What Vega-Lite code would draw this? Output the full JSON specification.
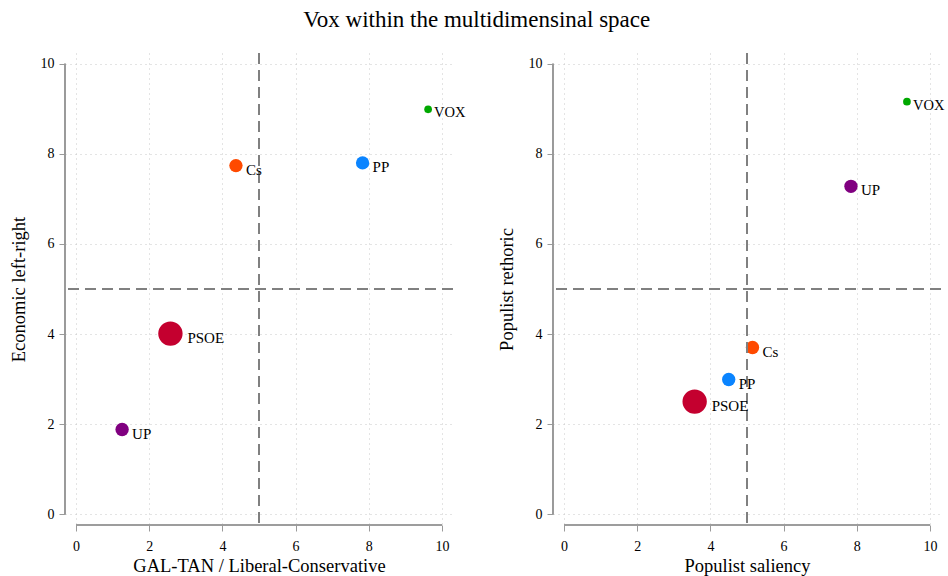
{
  "$schema": "https://vega.github.io/schema/vega-lite/v6.json",
  "background": "white",
  "padding": {"left": 9, "top": 9, "right": 0, "bottom": 2},
  "title": {"text": "Vox within the multidimensinal space", "font": "Liberation Serif", "fontSize": 23, "fontWeight": "normal", "color": "#000", "anchor": "middle", "offset": 20},
  "config": {
    "font": "Liberation Serif",
    "view": {"stroke": null},
    "axis": {
      "domain": false,
      "tickColor": "#9a9a9a",
      "tickSize": 6,
      "tickWidth": 1,
      "labelFont": "Liberation Serif",
      "labelFontSize": 14,
      "labelColor": "#000",
      "titleFont": "Liberation Serif",
      "titleFontSize": 18.5,
      "titleFontWeight": "normal",
      "titleColor": "#000",
      "gridColor": "#c8c8c8",
      "gridDash": [1, 4],
      "gridWidth": 1
    },
    "axisX": {"labelPadding": 8, "titlePadding": 3},
    "axisY": {"labelPadding": 5, "titlePadding": 12, "labelAngle": 0}
  },
  "datasets": {
    "econ": [
      {"party": "PSOE", "x": 2.58, "y": 4.01, "weight": 30},
      {"party": "PP", "x": 7.83, "y": 7.80, "weight": 9},
      {"party": "Cs", "x": 4.37, "y": 7.74, "weight": 9},
      {"party": "UP", "x": 1.26, "y": 1.88, "weight": 9},
      {"party": "VOX", "x": 9.62, "y": 8.99, "weight": 3}
    ],
    "pop": [
      {"party": "PSOE", "x": 3.57, "y": 2.50, "weight": 30},
      {"party": "PP", "x": 4.50, "y": 2.99, "weight": 9},
      {"party": "Cs", "x": 5.15, "y": 3.70, "weight": 9},
      {"party": "UP", "x": 7.84, "y": 7.28, "weight": 9},
      {"party": "VOX", "x": 9.37, "y": 9.16, "weight": 3}
    ]
  },
  "spacing": 31,
  "hconcat": [
    {
      "width": 388,
      "height": 472,
      "data": {"name": "econ"},
      "layer": [
        {
          "mark": {"type": "point", "filled": true, "opacity": 1, "strokeWidth": 0},
          "encoding": {
            "x": {"field": "x", "type": "quantitative", "scale": {"domain": [-0.3, 10.3], "nice": false, "zero": false}, "axis": {"title": "GAL-TAN / Liberal-Conservative", "grid": true, "values": [0, 2, 4, 6, 8, 10]}},
            "y": {"field": "y", "type": "quantitative", "scale": {"domain": [-0.24, 10.24], "nice": false, "zero": false}, "axis": {"title": "Economic left-right", "grid": true, "values": [0, 2, 4, 6, 8, 10]}},
            "size": {"field": "weight", "type": "quantitative", "scale": {"domain": [0, 30], "range": [0, 594]}, "legend": null},
            "color": {"field": "party", "type": "nominal", "scale": {"domain": ["PSOE", "PP", "Cs", "UP", "VOX"], "range": ["#c4002f", "#0a84ff", "#ff4a00", "#800080", "#00a800"]}, "legend": null}
          }
        },
        {
          "mark": {"type": "rule", "color": "#9a9a9a", "strokeWidth": 1.2},
          "encoding": {"x": {"datum": -0.3}, "y": {"datum": 0}, "y2": {"datum": 10}}
        },
        {
          "mark": {"type": "rule", "color": "#9a9a9a", "strokeWidth": 1.2},
          "encoding": {"y": {"datum": -0.24}, "x": {"datum": 0}, "x2": {"datum": 10}}
        },
        {
          "mark": {"type": "rule", "color": "#808080", "strokeWidth": 1.4, "strokeDash": [11, 6]},
          "encoding": {"x": {"datum": 5}}
        },
        {
          "mark": {"type": "rule", "color": "#808080", "strokeWidth": 1.4, "strokeDash": [11, 6]},
          "encoding": {"y": {"datum": 5}}
        },
        {
          "transform": [{"filter": "datum.party === 'PSOE'"}],
          "mark": {"type": "text", "align": "left", "baseline": "middle", "dx": 17, "dy": 4, "fontSize": 15, "color": "#000"},
          "encoding": {"x": {"field": "x", "type": "quantitative"}, "y": {"field": "y", "type": "quantitative"}, "text": {"field": "party"}}
        },
        {
          "transform": [{"filter": "datum.party !== 'PSOE' && datum.party !== 'VOX'"}],
          "mark": {"type": "text", "align": "left", "baseline": "middle", "dx": 10, "dy": 4, "fontSize": 15, "color": "#000"},
          "encoding": {"x": {"field": "x", "type": "quantitative"}, "y": {"field": "y", "type": "quantitative"}, "text": {"field": "party"}}
        },
        {
          "transform": [{"filter": "datum.party === 'VOX'"}],
          "mark": {"type": "text", "align": "left", "baseline": "middle", "dx": 6, "dy": 4, "fontSize": 14.5, "color": "#000"},
          "encoding": {"x": {"field": "x", "type": "quantitative"}, "y": {"field": "y", "type": "quantitative"}, "text": {"field": "party"}}
        }
      ]
    },
    {
      "width": 388,
      "height": 472,
      "data": {"name": "pop"},
      "layer": [
        {
          "mark": {"type": "point", "filled": true, "opacity": 1, "strokeWidth": 0},
          "encoding": {
            "x": {"field": "x", "type": "quantitative", "scale": {"domain": [-0.3, 10.3], "nice": false, "zero": false}, "axis": {"title": "Populist saliency", "grid": true, "values": [0, 2, 4, 6, 8, 10]}},
            "y": {"field": "y", "type": "quantitative", "scale": {"domain": [-0.24, 10.24], "nice": false, "zero": false}, "axis": {"title": "Populist rethoric", "grid": true, "values": [0, 2, 4, 6, 8, 10]}},
            "size": {"field": "weight", "type": "quantitative", "scale": {"domain": [0, 30], "range": [0, 594]}, "legend": null},
            "color": {"field": "party", "type": "nominal", "scale": {"domain": ["PSOE", "PP", "Cs", "UP", "VOX"], "range": ["#c4002f", "#0a84ff", "#ff4a00", "#800080", "#00a800"]}, "legend": null}
          }
        },
        {
          "mark": {"type": "rule", "color": "#9a9a9a", "strokeWidth": 1.2},
          "encoding": {"x": {"datum": -0.3}, "y": {"datum": 0}, "y2": {"datum": 10}}
        },
        {
          "mark": {"type": "rule", "color": "#9a9a9a", "strokeWidth": 1.2},
          "encoding": {"y": {"datum": -0.24}, "x": {"datum": 0}, "x2": {"datum": 10}}
        },
        {
          "mark": {"type": "rule", "color": "#808080", "strokeWidth": 1.4, "strokeDash": [11, 6]},
          "encoding": {"x": {"datum": 5}}
        },
        {
          "mark": {"type": "rule", "color": "#808080", "strokeWidth": 1.4, "strokeDash": [11, 6]},
          "encoding": {"y": {"datum": 5}}
        },
        {
          "transform": [{"filter": "datum.party === 'PSOE'"}],
          "mark": {"type": "text", "align": "left", "baseline": "middle", "dx": 17, "dy": 4, "fontSize": 15, "color": "#000"},
          "encoding": {"x": {"field": "x", "type": "quantitative"}, "y": {"field": "y", "type": "quantitative"}, "text": {"field": "party"}}
        },
        {
          "transform": [{"filter": "datum.party !== 'PSOE' && datum.party !== 'VOX'"}],
          "mark": {"type": "text", "align": "left", "baseline": "middle", "dx": 10, "dy": 4, "fontSize": 15, "color": "#000"},
          "encoding": {"x": {"field": "x", "type": "quantitative"}, "y": {"field": "y", "type": "quantitative"}, "text": {"field": "party"}}
        },
        {
          "transform": [{"filter": "datum.party === 'VOX'"}],
          "mark": {"type": "text", "align": "left", "baseline": "middle", "dx": 6, "dy": 4, "fontSize": 14.5, "color": "#000"},
          "encoding": {"x": {"field": "x", "type": "quantitative"}, "y": {"field": "y", "type": "quantitative"}, "text": {"field": "party"}}
        }
      ]
    }
  ]
}
